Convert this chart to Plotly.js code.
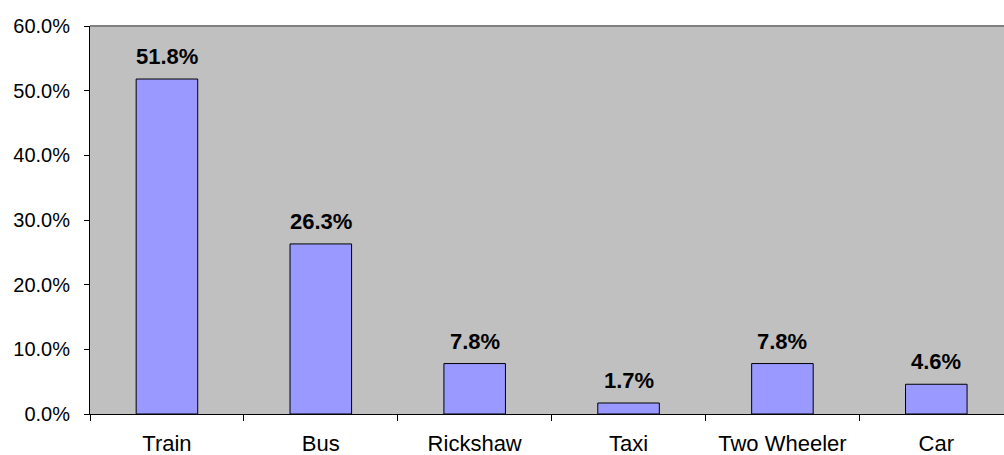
<!DOCTYPE html>
<html>
<head>
<meta charset="utf-8">
<script src="https://cdn.plot.ly/plotly-3.0.1.min.js"></script>
<style>html,body{margin:0;padding:0;background:#fff;}#chart{width:1004px;height:455px;}</style>
</head>
<body>
<div id="chart"></div>
<script>
const categories = ["Train", "Bus", "Rickshaw", "Taxi", "Two Wheeler", "Car"];
const shares = [0.518, 0.263, 0.078, 0.017, 0.078, 0.046];
const yTickValues = [0, 0.1, 0.2, 0.3, 0.4, 0.5, 0.6];

const trace = {
  type: "bar",
  x: categories,
  y: shares,
  marker: { color: "#9999FF", line: { color: "#000000", width: 1 } },
  hoverinfo: "skip"
};

const annotations = categories.map((c, i) => ({
  x: c, y: shares[i], xref: "x", yref: "y",
  text: "<b>" + (shares[i] * 100).toFixed(1) + "%</b>",
  showarrow: false, yanchor: "bottom", yshift: 8,
  font: { family: "Liberation Sans, Arial, sans-serif", size: 22, color: "#000" }
}));

const layout = {
  width: 1004, height: 455,
  margin: { l: 90, r: 0, t: 26, b: 41, pad: 0 },
  paper_bgcolor: "#ffffff",
  plot_bgcolor: "#C0C0C0",
  bargap: 0.6,
  showlegend: false,
  font: { family: "Liberation Sans, Arial, sans-serif", size: 20, color: "#000" },
  xaxis: {
    type: "category",
    range: [-0.5, 5.44],
    showgrid: false, zeroline: false,
    showline: true, linecolor: "#000", linewidth: 1,
    ticks: "outside", ticklen: 6, tickcolor: "#000", tickson: "boundaries",
    ticklabelstandoff: 10,
    tickfont: { size: 22 }
  },
  yaxis: {
    range: [0, 0.6],
    tickvals: yTickValues,
    tickformat: ".1%",
    showgrid: false, zeroline: false,
    showline: true, linecolor: "#000", linewidth: 1,
    ticks: "outside", ticklen: 5, tickcolor: "#000",
    ticklabelstandoff: 10,
    tickfont: { size: 20 }
  },
  shapes: [{
    type: "line", xref: "paper", yref: "paper", x0: 0, x1: 1, y0: 1, y1: 1,
    line: { color: "#808080", width: 2 }
  }],
  annotations: annotations
};

Plotly.newPlot("chart", [trace], layout, { staticPlot: true, displayModeBar: false });
</script>
</body>
</html>
